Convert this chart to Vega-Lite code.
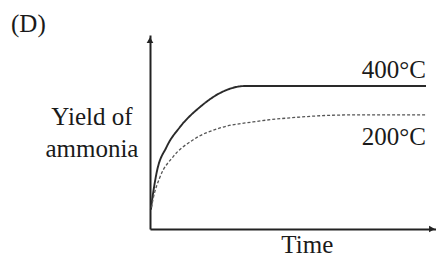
{
  "$schema": "https://vega.github.io/schema/vega-lite/v6.json",
  "autosize": "none",
  "width": 286,
  "height": 194,
  "padding": {"left": 150, "top": 35, "right": 0, "bottom": 26},
  "background": "white",
  "view": {"stroke": null},
  "config": {"text": {"font": "Liberation Serif", "fontSize": 25, "color": "#1a1a1a"}},
  "datasets": {
    "curves": [
      {"series": "400°C", "t": 0.3, "yield": 10},
      {"series": "400°C", "t": 0.6, "yield": 13.4},
      {"series": "400°C", "t": 2.3, "yield": 28.9},
      {"series": "400°C", "t": 5.8, "yield": 42.3},
      {"series": "400°C", "t": 10.5, "yield": 52.6},
      {"series": "400°C", "t": 17.5, "yield": 62.9},
      {"series": "400°C", "t": 24.5, "yield": 70.1},
      {"series": "400°C", "t": 33.2, "yield": 73.7},
      {"series": "400°C", "t": 96.5, "yield": 73.7},
      {"series": "200°C", "t": 0.5, "yield": 11},
      {"series": "200°C", "t": 1.0, "yield": 14.9},
      {"series": "200°C", "t": 3.5, "yield": 26.8},
      {"series": "200°C", "t": 8.0, "yield": 37.1},
      {"series": "200°C", "t": 15.0, "yield": 45.9},
      {"series": "200°C", "t": 24.5, "yield": 52.1},
      {"series": "200°C", "t": 36.0, "yield": 55.2},
      {"series": "200°C", "t": 52.4, "yield": 57.7},
      {"series": "200°C", "t": 69.9, "yield": 58.8},
      {"series": "200°C", "t": 96.5, "yield": 58.8}
    ],
    "rightLabels": [
      {"label": "400°C", "t": 96.5, "yield": 77.8},
      {"label": "200°C", "t": 96.5, "yield": 43.3}
    ],
    "centerLabels": [
      {"label": "Yield of", "t": -20.3, "yield": 53.6},
      {"label": "ammonia", "t": -20.3, "yield": 37.1},
      {"label": "Time", "t": 55, "yield": -12.5}
    ],
    "leftLabels": [
      {"label": "(D)", "t": -48.6, "yield": 101.5}
    ],
    "arrows": [
      {"t": 0, "yield": 97.4, "dir": "up"},
      {"t": 98.6, "yield": 0, "dir": "right"}
    ]
  },
  "layer": [
    {
      "data": {"name": "curves"},
      "mark": {"type": "line", "interpolate": "monotone", "clip": false},
      "encoding": {
        "x": {"field": "t", "type": "quantitative", "scale": {"domain": [0, 100], "nice": false, "zero": false},
          "axis": {"domain": true, "domainColor": "#222", "domainWidth": 2, "ticks": false, "labels": false, "grid": false, "title": null}},
        "y": {"field": "yield", "type": "quantitative", "scale": {"domain": [0, 100], "nice": false, "zero": false},
          "axis": {"domain": true, "domainColor": "#222", "domainWidth": 2, "ticks": false, "labels": false, "grid": false, "title": null}},
        "color": {"field": "series", "type": "nominal", "scale": {"domain": ["400°C", "200°C"], "range": ["#2a2a2a", "#555555"]}, "legend": null},
        "strokeDash": {"field": "series", "type": "nominal", "scale": {"domain": ["400°C", "200°C"], "range": [[1, 0], [3, 2]]}, "legend": null},
        "strokeWidth": {"field": "series", "type": "nominal", "scale": {"domain": ["400°C", "200°C"], "range": [1.9, 1.3]}, "legend": null}
      }
    },
    {
      "data": {"name": "arrows"},
      "mark": {"type": "point", "filled": true, "color": "#222", "size": 45, "opacity": 1, "clip": false},
      "encoding": {
        "x": {"field": "t", "type": "quantitative"},
        "y": {"field": "yield", "type": "quantitative"},
        "shape": {"field": "dir", "type": "nominal", "scale": {"domain": ["up", "right"], "range": ["triangle-up", "triangle-right"]}, "legend": null}
      }
    },
    {
      "data": {"name": "rightLabels"},
      "mark": {"type": "text", "baseline": "alphabetic", "align": "right", "clip": false},
      "encoding": {
        "x": {"field": "t", "type": "quantitative"},
        "y": {"field": "yield", "type": "quantitative"},
        "text": {"field": "label"}
      }
    },
    {
      "data": {"name": "centerLabels"},
      "mark": {"type": "text", "baseline": "alphabetic", "align": "center", "clip": false},
      "encoding": {
        "x": {"field": "t", "type": "quantitative"},
        "y": {"field": "yield", "type": "quantitative"},
        "text": {"field": "label"}
      }
    },
    {
      "data": {"name": "leftLabels"},
      "mark": {"type": "text", "baseline": "alphabetic", "align": "left", "clip": false},
      "encoding": {
        "x": {"field": "t", "type": "quantitative"},
        "y": {"field": "yield", "type": "quantitative"},
        "text": {"field": "label"}
      }
    }
  ]
}
